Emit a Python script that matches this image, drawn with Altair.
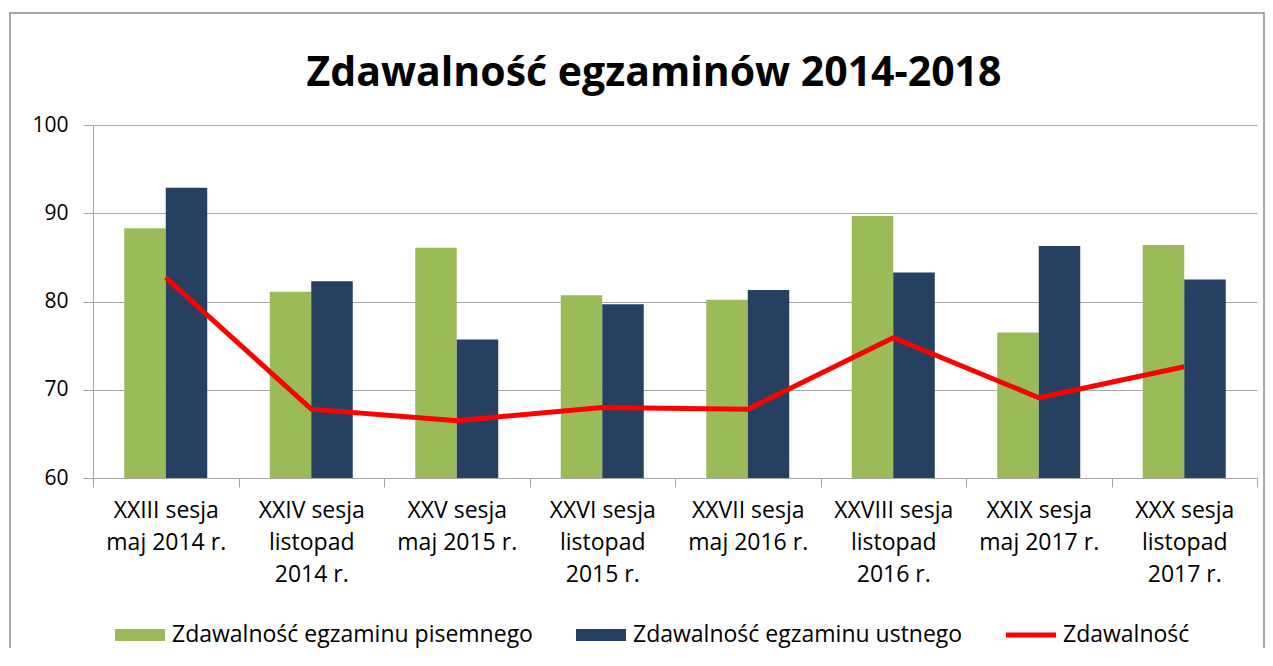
import altair as alt
import pandas as pd

# ---- data ----
sessions = [
    "XXIII sesja|maj 2014 r.",
    "XXIV sesja|listopad|2014 r.",
    "XXV sesja|maj 2015 r.",
    "XXVI sesja|listopad|2015 r.",
    "XXVII sesja|maj 2016 r.",
    "XXVIII sesja|listopad|2016 r.",
    "XXIX sesja|maj 2017 r.",
    "XXX sesja|listopad|2017 r.",
]
pisemny = [88.3, 81.1, 86.1, 80.7, 80.2, 89.7, 76.5, 86.4]
ustny = [92.9, 82.3, 75.7, 79.7, 81.3, 83.3, 86.3, 82.5]
ogolna = [82.7, 67.8, 66.5, 68.0, 67.8, 75.9, 69.1, 72.6]
series_names = ["Zdawalność egzaminu pisemnego", "Zdawalność egzaminu ustnego", "Zdawalność"]
series_colors = ["#9BBB59", "#254061", "#FF0000"]
y_ticks = [60, 70, 80, 90, 100]
y_min = 60
title_text = "Zdawalność egzaminów 2014-2018"

rows = []
for name, vals in zip(series_names, [pisemny, ustny, ogolna]):
    for s, v in zip(sessions, vals):
        rows.append({"session": s, "series": name, "value": v})
df = pd.DataFrame(rows)

W, H = 1164, 353
GRAY = "#A6A6A6"
FONT = "Open Sans"

rect_path = "M-1,-0.24H1V0.24H-1Z"
line_path = "M-1,-0.1H1V0.1H-1Z"

color = alt.Color(
    "series:N",
    scale=alt.Scale(domain=series_names, range=series_colors),
    legend=alt.Legend(
        title=None,
        orient="none",
        legendX=22,
        legendY=485,
        direction="horizontal",
        symbolType={"expr": f"datum.value === 'Zdawalność' ? '{line_path}' : '{rect_path}'"},
        symbolSize=2500,
        symbolStrokeWidth=0,
        symbolFillColor={"expr": "scale('color', datum.value)"},
        symbolOpacity=1,
        labelFont=FONT,
        labelFontSize=23,
        labelColor="#000000",
        labelOffset=7,
        columnPadding=43,
        labelLimit=500,
    ),
)

x = alt.X(
    "session:N",
    sort=sessions,
    scale=alt.Scale(paddingInner=0, paddingOuter=0),
    axis=alt.Axis(
        title=None,
        labelExpr="split(datum.label, '|')",
        labelAngle=0,
        tickBand="extent",
        tickSize=9,
        tickColor=GRAY,
        domainColor=GRAY,
        labelFont=FONT,
        labelFontSize=23,
        labelLineHeight=32,
        labelPadding=12,
        labelColor="#000000",
        labelOverlap=False,
        labelBound=False,
        grid=False,
    ),
)

y = alt.Y(
    "value:Q",
    scale=alt.Scale(domain=[60, 100], zero=False, nice=False),
    axis=alt.Axis(
        title=None,
        values=y_ticks,
        grid=True,
        gridColor=GRAY,
        tickColor=GRAY,
        domainColor=GRAY,
        tickSize=10,
        labelPadding=15,
        labelFont=FONT,
        labelFontSize=21,
        labelColor="#000000",
    ),
)

bars = alt.Chart(df).transform_filter(
    alt.datum.series != "Zdawalność"
).mark_bar().encode(
    x=x,
    xOffset=alt.XOffset("series:N", sort=series_names[:2],
                        scale=alt.Scale(paddingOuter=0.753, paddingInner=0)),
    y=y,
    y2=alt.datum(y_min),
    color=color,
)

line = alt.Chart(df).transform_filter(
    alt.datum.series == "Zdawalność"
).mark_line(strokeWidth=5).encode(
    x=x,
    y=y,
    color=color,
)

frame = alt.Chart(pd.DataFrame({"f": [0]})).mark_rect(
    fill=None, stroke="#8C8C8C", strokeWidth=1.5
).encode(
    x=alt.value(-83), x2=alt.value(W + 7),
    y=alt.value(-112), y2=alt.value(H + 250),
)

chart = alt.layer(frame, bars, line).properties(
    width=W,
    height=H,
    title=alt.TitleParams(
        title_text,
        font=FONT,
        fontSize=41,
        fontWeight="bold",
        color="#000000",
        anchor="middle",
        baseline="alphabetic",
        frame="group",
        dx=-21,
        dy=115,
        offset=0,
    ),
    autosize=alt.AutoSizeParams(type="none"),
    padding={"left": 85, "top": 117, "right": 8, "bottom": 170},
).configure_view(stroke=None)

chart.save("out.html", embed_options={"renderer": "svg", "actions": False})
